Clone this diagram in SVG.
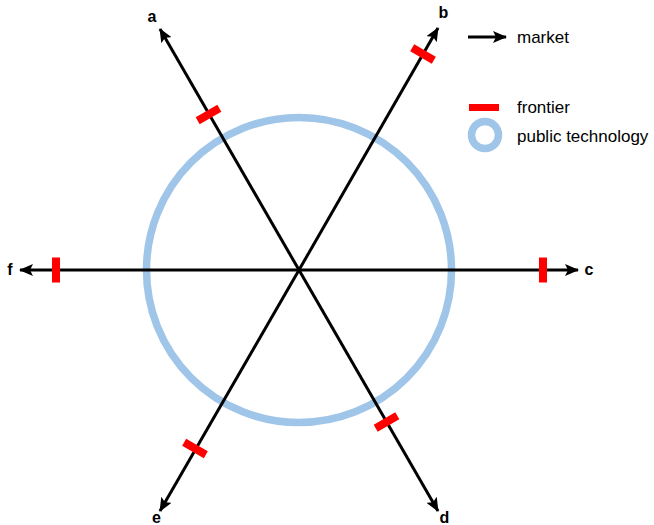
<svg xmlns="http://www.w3.org/2000/svg" width="654" height="525" viewBox="0 0 654 525">
<style>
.ln{stroke:#000;stroke-width:3;fill:none;marker-end:url(#ah)}
.fr{fill:#ff0000}
.lbl{font-family:"Liberation Sans",Arial,sans-serif;font-size:16px;font-weight:bold;fill:#000}
.leg{font-family:"Liberation Sans",Arial,sans-serif;font-size:17px;fill:#000}
.ring{fill:none;stroke:#9fc5e8;stroke-width:7.5}
</style>
<defs>
<marker id="ah" markerUnits="userSpaceOnUse" markerWidth="14" markerHeight="12" refX="13" refY="6" orient="auto" viewBox="0 0 14 12">
<path d="M0,0 L14,6 L0,12 L3,6 z" fill="#000"/>
</marker>
</defs>
<g id="public-technology">
<circle class="ring" cx="299" cy="270" r="152.5"/>
</g>
<g id="connectors">
<line class="ln" x1="299" y1="270" x2="160" y2="29"/>
<line class="ln" x1="299" y1="270" x2="438" y2="28"/>
<line class="ln" x1="299" y1="270" x2="578" y2="270"/>
<line class="ln" x1="299" y1="270" x2="438" y2="511"/>
<line class="ln" x1="299" y1="270" x2="160" y2="511"/>
<line class="ln" x1="299" y1="270" x2="20" y2="270"/>
</g>
<g id="frontiers">
<rect class="fr" x="-4" y="-12.5" width="8" height="25" transform="translate(208.5,114.5) rotate(-120)"/>
<rect class="fr" x="-4" y="-12.5" width="8" height="25" transform="translate(423,54) rotate(-60)"/>
<rect class="fr" x="-4" y="-12.5" width="8" height="25" transform="translate(543,270)"/>
<rect class="fr" x="-4" y="-12.5" width="8" height="25" transform="translate(386.5,422) rotate(60)"/>
<rect class="fr" x="-4" y="-12.5" width="8" height="25" transform="translate(195,448.5) rotate(120)"/>
<rect class="fr" x="-4" y="-12.5" width="8" height="25" transform="translate(56,270)"/>
</g>
<g id="node-a"><text class="lbl" x="152" y="22" text-anchor="middle">a</text></g>
<g id="node-b"><text class="lbl" x="443.5" y="18" text-anchor="middle">b</text></g>
<g id="node-c"><text class="lbl" x="589" y="275" text-anchor="middle">c</text></g>
<g id="node-d"><text class="lbl" x="444.5" y="523" text-anchor="middle">d</text></g>
<g id="node-e"><text class="lbl" x="156.5" y="523" text-anchor="middle">e</text></g>
<g id="node-f"><text class="lbl" x="10" y="275" text-anchor="middle">f</text></g>
<g id="legend">
<line class="ln" x1="468" y1="37" x2="506" y2="37"/>
<text class="leg" x="517" y="43">market</text>
<rect class="fr" x="469" y="104" width="30" height="7"/>
<text class="leg" x="517" y="113">frontier</text>
<circle class="ring" cx="485" cy="135" r="13.5"/>
<text class="leg" x="517" y="142">public technology</text>
</g>
</svg>
